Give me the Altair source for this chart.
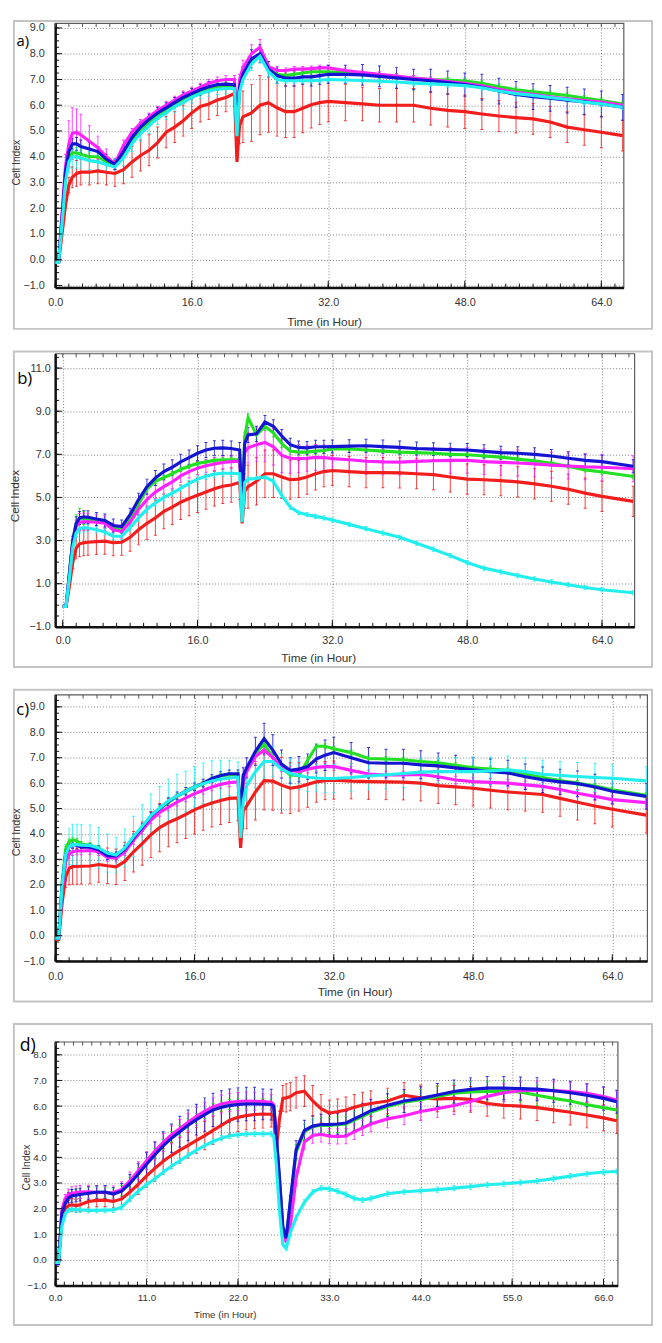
import altair as alt
import numpy as np
import pandas as pd

FONT = "Liberation Sans"
SERIES = ["red", "green", "blue", "magenta", "cyan"]
COLORS = {"red": "#f21d1d", "green": "#22e022", "blue": "#1414d2",
          "magenta": "#ff22ff", "cyan": "#22eeee"}
DRAW_ORDER = ["red", "green", "magenta", "blue", "cyan"]

# ---------------- panel a ----------------
A_T = [0, 0.4, 0.8, 1.2, 1.6, 2, 2.5, 3, 4, 5, 6, 7, 8, 9, 10, 11, 12, 13, 14, 15, 16, 17, 18, 19, 20, 21,
       21.3, 21.6, 22, 23, 24, 25, 26, 27, 28, 29, 30, 31, 32, 34, 36, 38, 40, 42, 44, 46, 48, 50, 52, 54,
       56, 58, 60, 62, 64, 66.5]
A_RED = [-0.1, -0.1, 1.0, 2.1, 2.9, 3.2, 3.35,
         3.4, 3.4, 3.45, 3.4, 3.35, 3.5, 3.8, 4.05, 4.25, 4.55, 4.95, 5.15, 5.4, 5.7, 5.95, 6.05, 6.2, 6.3, 6.45,
         3.8, 5.2,
         5.55, 5.7, 6.0, 6.1, 5.9, 5.75, 5.75, 5.88, 6.02, 6.1, 6.15,
         6.1, 6.05, 6.0, 6.0, 6.0, 5.88, 5.8, 5.75, 5.66, 5.58, 5.52, 5.47, 5.35, 5.15, 5.05, 4.95,
         4.82]
A_GREEN = [-0.1, -0.1, 1.5, 3.2, 3.95, 4.15, 4.15,
           4.1, 4.0, 4.0, 3.8, 3.65, 4.1, 4.65, 5.05, 5.35, 5.6, 5.85, 6.05, 6.25, 6.4, 6.55, 6.65, 6.72, 6.75, 6.75,
           5.0, 6.6,
           7.1, 7.75, 7.9, 7.4, 7.2, 7.15, 7.2, 7.25, 7.3, 7.3, 7.3,
           7.27, 7.22, 7.15, 7.1, 7.05, 7.0, 6.98, 6.94, 6.85, 6.72, 6.6, 6.52, 6.45, 6.38, 6.28, 6.18,
           6.05]
A_BLUE = [-0.1, -0.1, 1.6, 3.4, 4.2, 4.5, 4.5,
          4.4, 4.3, 4.2, 3.9, 3.7, 4.2, 4.75, 5.15, 5.45, 5.7, 5.9, 6.1, 6.3, 6.45, 6.6, 6.72, 6.8, 6.82, 6.8,
          5.0, 6.7,
          7.2, 7.8, 8.0, 7.4, 7.15, 7.05, 7.05, 7.1, 7.1, 7.15, 7.2,
          7.2, 7.18, 7.12, 7.06, 7.0, 6.95, 6.88, 6.8, 6.7, 6.55, 6.42, 6.33, 6.27, 6.2, 6.13, 6.05,
          5.92]
A_MAGENTA = [-0.1, -0.1, 1.8, 3.6, 4.5, 4.9, 4.95,
             4.85, 4.6, 4.35, 4.0, 3.72, 4.45, 4.95, 5.3, 5.55, 5.8, 6.0, 6.2, 6.4, 6.55, 6.7, 6.85, 6.95, 7.0, 7.0,
             5.0, 7.0,
             7.45, 8.0, 8.25, 7.5, 7.35, 7.35, 7.4, 7.4, 7.42, 7.45, 7.45,
             7.35, 7.27, 7.2, 7.13, 7.05, 7.0, 6.92, 6.85, 6.75, 6.62, 6.5, 6.42, 6.33, 6.25, 6.18, 6.12,
             6.0]
A_CYAN = [-0.1, -0.1, 1.4, 3.0, 3.8, 4.0, 4.0,
          3.95, 3.85, 3.8, 3.7, 3.6, 3.95, 4.5, 4.9, 5.2, 5.5, 5.7, 5.95, 6.1, 6.3, 6.45, 6.55, 6.62, 6.65, 6.65,
          4.8, 6.5,
          7.0, 7.6, 7.9, 7.3, 7.0, 6.95, 6.95, 6.95, 6.95, 6.97, 7.0,
          6.98, 6.96, 6.93, 6.9, 6.86, 6.83, 6.8, 6.76, 6.68, 6.55, 6.45, 6.38, 6.3, 6.22, 6.12, 6.05,
          5.92]
A_RED_E = [0, 0, 0, 0, 0.3, 0.4, 0.5,
           0.5, 0.5, 0.5, 0.5, 0.5, 0.55, 0.6, 0.6, 0.6, 0.6, 0.6, 0.6, 0.6, 0.6, 0.6, 0.6, 0.6, 0.55, 0.5,
           0, 0.7,
           1.0, 1.1, 1.15, 1.15, 1.1, 1.0, 1.0, 0.95, 0.9, 0.85, 0.8,
           0.7, 0.65, 0.65, 0.65, 0.65, 0.65, 0.65, 0.65, 0.6, 0.6, 0.6, 0.6, 0.6, 0.6, 0.6, 0.6,
           0.6]
A_GREEN_E = [0, 0, 0, 0.1, 0.2, 0.2, 0.2,
             0.15, 0.15, 0.15, 0.15, 0.15, 0.15, 0.15, 0.15, 0.15, 0.15, 0.15, 0.15, 0.15, 0.15, 0.15, 0.15, 0.15, 0.15, 0.15,
             0, 0.1,
             0.1, 0.1, 0.1, 0.1, 0.1, 0.1, 0.1, 0.1, 0.1, 0.1, 0.1,
             0.1, 0.1, 0.1, 0.1, 0.1, 0.1, 0.1, 0.1, 0.1, 0.1, 0.1, 0.1, 0.1, 0.1, 0.1, 0.1,
             0.1]
A_BLUE_E = [0, 0, 0, 0, 0.15, 0.2, 0.25,
            0.25, 0.25, 0.2, 0.2, 0.2, 0.2, 0.2, 0.2, 0.2, 0.2, 0.2, 0.2, 0.2, 0.2, 0.2, 0.2, 0.2, 0.2, 0.2,
            0, 0.2,
            0.3, 0.35, 0.35, 0.3, 0.3, 0.3, 0.3, 0.3, 0.35, 0.35, 0.35,
            0.35, 0.4, 0.4, 0.4, 0.4, 0.45, 0.45, 0.45, 0.5, 0.5, 0.5, 0.5, 0.5, 0.5, 0.5, 0.5,
            0.5]
A_MAGENTA_E = [0, 0, 0, 0.5, 0.9, 1.0, 0.9,
               0.8, 0.6, 0.45, 0.3, 0.2, 0.2, 0.15, 0.15, 0.15, 0.15, 0.15, 0.15, 0.15, 0.15, 0.15, 0.15, 0.15, 0.15, 0.15,
               0, 0.2,
               0.3, 0.35, 0.3, 0.2, 0.15, 0.1, 0.1, 0.1, 0.1, 0.1, 0.1,
               0.1, 0.1, 0.1, 0.1, 0.1, 0.1, 0.1, 0.1, 0.1, 0.1, 0.1, 0.1, 0.1, 0.1, 0.1, 0.1,
               0.1]
A_CYAN_E = [0, 0, 0, 0.3, 0.4, 0.45, 0.45,
            0.4, 0.35, 0.3, 0.3, 0.3, 0.3, 0.3, 0.3, 0.3, 0.25, 0.25, 0.25, 0.25, 0.2, 0.2, 0.2, 0.2, 0.2, 0.2,
            0, 0.2,
            0.2, 0.25, 0.25, 0.2, 0.15, 0.1, 0.1, 0.1, 0.1, 0.1, 0.1,
            0.1, 0.1, 0.1, 0.1, 0.1, 0.1, 0.1, 0.1, 0.1, 0.1, 0.1, 0.1, 0.1, 0.1, 0.1, 0.1,
            0.1]

# ---------------- panel b ----------------
B_T = [0, 0.4, 0.8, 1.2, 1.6, 2, 2.5, 3, 4, 5, 6, 7, 8, 9, 10, 11, 12, 13, 14, 15, 16, 17, 18, 19, 20, 21,
       21.3, 21.6, 22, 23, 24, 25, 26, 27, 28, 29, 30, 31, 32, 34, 36, 38, 40, 42, 44, 46, 48, 50, 52, 54,
       56, 58, 60, 62, 64, 67.7]
B_RED = [-0.05, -0.05, 0.9, 2.0, 2.65, 2.85, 2.9,
         2.92, 2.95, 2.97, 2.9, 2.92, 3.15, 3.5, 3.8, 4.05, 4.35, 4.55, 4.78, 4.95, 5.1, 5.25, 5.4, 5.52, 5.58, 5.7,
         3.8, 5.3,
         5.5, 5.75, 6.1, 6.1, 5.95, 5.82, 5.85, 5.95, 6.1, 6.2, 6.25,
         6.2, 6.15, 6.15, 6.14, 6.1, 6.06, 5.95, 5.85, 5.82, 5.78, 5.72, 5.63, 5.52, 5.38, 5.2, 5.05,
         4.82]
B_GREEN = [-0.05, -0.05, 1.5, 3.0, 3.8, 4.0, 4.05,
           4.0, 3.95, 3.9, 3.6, 3.5, 4.0, 4.7, 5.4, 5.75, 5.92, 6.1, 6.3, 6.45, 6.58, 6.65, 6.72, 6.75, 6.75, 6.75,
           4.5, 7.8,
           8.7, 7.9, 8.3, 8.0, 7.5, 7.15, 7.1, 7.1, 7.15, 7.18, 7.25,
           7.25, 7.2, 7.15, 7.1, 7.08, 7.05, 7.0, 6.98, 6.92, 6.87, 6.78, 6.7, 6.58, 6.45, 6.28, 6.18,
           5.97]
B_BLUE = [-0.05, -0.05, 1.5, 3.0, 3.8, 4.05, 4.1,
          4.08, 4.0, 3.93, 3.7, 3.65, 4.2, 4.9, 5.5, 5.9, 6.2, 6.4, 6.65, 6.85, 7.05, 7.2, 7.28, 7.3, 7.27, 7.2,
          4.6, 7.5,
          7.9, 7.95, 8.5, 8.3, 7.85, 7.45, 7.32, 7.3, 7.35, 7.35, 7.36,
          7.38, 7.4, 7.36, 7.32, 7.27, 7.24, 7.22, 7.2, 7.14, 7.08, 7.05, 7.0, 6.92, 6.82, 6.72, 6.66,
          6.45]
B_MAGENTA = [-0.05, -0.05, 1.4, 2.9, 3.65, 3.85, 3.88,
             3.87, 3.85, 3.8, 3.5, 3.42, 3.85, 4.45, 4.9, 5.25, 5.5, 5.72, 6.0, 6.2, 6.36, 6.47, 6.55, 6.62, 6.66, 6.68,
             4.6, 7.1,
             7.3, 7.45, 7.55, 7.35, 6.95, 6.82, 6.8, 6.82, 6.86, 6.85, 6.8,
             6.75, 6.68, 6.65, 6.64, 6.67, 6.7, 6.72, 6.72, 6.66, 6.63, 6.6, 6.56, 6.5, 6.46, 6.42, 6.4,
             6.33]
B_CYAN = [-0.05, -0.05, 1.3, 2.7, 3.35, 3.55, 3.6,
          3.58, 3.5, 3.4, 3.2, 3.2, 3.6, 4.05, 4.45, 4.75, 5.0, 5.2, 5.42, 5.65, 5.85, 5.98, 6.08, 6.12, 6.12, 6.1,
          3.85, 5.7,
          5.85, 5.88, 5.95, 5.75, 5.1, 4.55, 4.3, 4.2, 4.12, 4.05, 3.95,
          3.75, 3.55, 3.35, 3.15, 2.88, 2.6, 2.3, 1.98, 1.72, 1.55, 1.38, 1.22, 1.08, 0.95, 0.82, 0.72,
          0.58]
B_RED_E = [0, 0, 0, 0.3, 0.5, 0.6, 0.6,
           0.6, 0.6, 0.6, 0.6, 0.6, 0.65, 0.7, 0.75, 0.8, 0.8, 0.8, 0.8, 0.8, 0.8, 0.8, 0.8, 0.8, 0.8, 0.8,
           0, 0.8,
           1.0, 1.1, 1.1, 1.1, 1.0, 0.9, 0.85, 0.8, 0.75, 0.7, 0.7,
           0.7, 0.7, 0.7, 0.7, 0.7, 0.7, 0.7, 0.7, 0.7, 0.7, 0.7, 0.7, 0.7, 0.7, 0.7, 0.7,
           0.7]
B_GREEN_E = [0, 0, 0, 0.2, 0.4, 0.5, 0.3,
             0.1, 0.1, 0.1, 0.1, 0.1, 0.1, 0.1, 0.1, 0.1, 0.1, 0.1, 0.1, 0.1, 0.1, 0.1, 0.1, 0.1, 0.1, 0.1,
             0, 0.2,
             0.2, 0.2, 0.2, 0.2, 0.2, 0.15, 0.15, 0.15, 0.15, 0.15, 0.15,
             0.1, 0.1, 0.1, 0.1, 0.1, 0.1, 0.1, 0.1, 0.1, 0.1, 0.1, 0.1, 0.1, 0.1, 0.1, 0.1,
             0.1]
B_BLUE_E = [0, 0, 0, 0.2, 0.3, 0.3, 0.3,
            0.3, 0.3, 0.3, 0.3, 0.3, 0.3, 0.3, 0.35, 0.35, 0.35, 0.35, 0.35, 0.35, 0.35, 0.35, 0.35, 0.35, 0.35, 0.35,
            0, 0.3,
            0.35, 0.35, 0.3, 0.3, 0.3, 0.3, 0.3, 0.3, 0.3, 0.3, 0.3,
            0.3, 0.3, 0.3, 0.3, 0.3, 0.3, 0.3, 0.3, 0.3, 0.3, 0.3, 0.3, 0.3, 0.3, 0.3, 0.3,
            0.3]
B_MAGENTA_E = [0, 0, 0, 0.2, 0.3, 0.4, 0.4,
               0.4, 0.35, 0.35, 0.3, 0.3, 0.3, 0.3, 0.3, 0.3, 0.3, 0.3, 0.3, 0.3, 0.3, 0.3, 0.3, 0.3, 0.3, 0.3,
               0, 0.6,
               0.7, 0.8, 0.9, 0.85, 0.8, 0.7, 0.65, 0.6, 0.6, 0.6, 0.6,
               0.6, 0.6, 0.6, 0.6, 0.6, 0.6, 0.6, 0.6, 0.6, 0.6, 0.6, 0.6, 0.6, 0.6, 0.6, 0.6,
               0.6]
B_CYAN_E = [0, 0, 0, 0.15, 0.2, 0.2, 0.2,
            0.15, 0.15, 0.15, 0.15, 0.15, 0.15, 0.15, 0.15, 0.15, 0.15, 0.15, 0.15, 0.15, 0.15, 0.15, 0.15, 0.15, 0.15, 0.15,
            0, 0.1,
            0.1, 0.1, 0.1, 0.1, 0.1, 0.1, 0.1, 0.1, 0.1, 0.1, 0.1,
            0.1, 0.1, 0.1, 0.1, 0.1, 0.1, 0.1, 0.1, 0.1, 0.1, 0.1, 0.1, 0.1, 0.1, 0.1, 0.1,
            0.1]

# ---------------- panel c ----------------
C_T = [0, 0.4, 0.8, 1.2, 1.6, 2, 2.5, 3, 4, 5, 6, 7, 8, 9, 10, 11, 12, 13, 14, 15, 16, 17, 18, 19, 20, 21,
       21.3, 21.6, 22, 23, 24, 25, 26, 27, 28, 29, 30, 31, 32, 34, 36, 38, 40, 42, 44, 46, 48, 50, 52, 54,
       56, 58, 60, 62, 64, 67.9]
C_RED = [-0.15, -0.15, 1.3, 2.3, 2.65, 2.72, 2.72,
         2.73, 2.74, 2.8, 2.75, 2.71, 2.92, 3.3, 3.62, 3.97, 4.25, 4.45, 4.6, 4.77, 4.95, 5.1, 5.22, 5.32, 5.4, 5.42,
         3.45, 4.9,
         5.1, 5.65, 6.1, 6.08, 5.92, 5.8, 5.85, 5.95, 6.05, 6.1, 6.12,
         6.08, 6.06, 6.05, 6.04, 6.0, 5.9, 5.85, 5.8, 5.72, 5.65, 5.6, 5.55, 5.4, 5.25, 5.1, 4.97,
         4.74]
C_GREEN = [-0.1, -0.1, 2.1, 3.4, 3.7, 3.77, 3.72,
           3.6, 3.55, 3.45, 3.2, 3.15, 3.4, 3.85, 4.25, 4.68, 4.98, 5.25, 5.48, 5.66, 5.83, 5.98, 6.15, 6.28, 6.33, 6.33,
           4.6, 6.25,
           6.55, 7.15, 7.55, 7.0, 6.6, 6.32, 6.3, 6.9, 7.45, 7.45, 7.35,
           7.2, 6.97, 6.95, 6.92, 6.85, 6.8, 6.7, 6.6, 6.55, 6.5, 6.35, 6.22, 6.1, 6.0, 5.88, 5.74,
           5.52]
C_BLUE = [-0.1, -0.1, 2.0, 3.2, 3.5, 3.6, 3.55,
          3.48, 3.48, 3.38, 3.15, 3.14, 3.4, 3.85, 4.25, 4.7, 5.0, 5.27, 5.5, 5.68, 5.85, 6.0, 6.18, 6.3, 6.37, 6.37,
          4.65, 6.3,
          6.6, 7.25, 7.75, 7.3, 6.75, 6.5, 6.55, 6.65, 6.95, 7.1, 7.2,
          7.0, 6.8, 6.78, 6.78, 6.72, 6.68, 6.6, 6.52, 6.45, 6.4, 6.25, 6.13, 6.05, 5.98, 5.85, 5.68,
          5.48]
C_MAGENTA = [-0.1, -0.1, 1.8, 2.9, 3.2, 3.3, 3.33,
             3.33, 3.35, 3.3, 3.08, 3.05, 3.3, 3.75, 4.15, 4.55, 4.85, 5.05, 5.25, 5.42, 5.58, 5.72, 5.85, 5.95, 6.02, 6.05,
             4.6, 6.0,
             6.45, 7.05, 7.3, 7.0, 6.6, 6.5, 6.45, 6.55, 6.62, 6.65, 6.65,
             6.5, 6.36, 6.32, 6.32, 6.34, 6.25, 6.12, 6.06, 6.03, 6.0, 5.93, 5.87, 5.75, 5.6, 5.48, 5.35,
             5.23]
C_CYAN = [-0.1, -0.1, 2.0, 3.2, 3.5, 3.58, 3.58,
          3.56, 3.55, 3.45, 3.25, 3.17, 3.45, 3.9, 4.3, 4.72, 5.02, 5.3, 5.5, 5.67, 5.85, 5.98, 6.08, 6.15, 6.2, 6.23,
          3.85, 5.3,
          5.9, 6.45, 6.85, 6.85, 6.55, 6.38, 6.3, 6.23, 6.2, 6.18, 6.18,
          6.22, 6.28, 6.33, 6.38, 6.43, 6.45, 6.45, 6.45, 6.48, 6.52, 6.45, 6.35, 6.3, 6.26, 6.22, 6.19,
          6.09]
C_RED_E = [0, 0, 0, 0.4, 0.65, 0.7, 0.7,
           0.7, 0.7, 0.7, 0.7, 0.7, 0.75, 0.8, 0.85, 0.9, 0.95, 0.95, 0.95, 0.95, 0.95, 0.95, 0.95, 0.95, 0.95, 0.9,
           0, 0.7,
           0.9, 1.1, 1.15, 1.15, 1.1, 1.0, 0.95, 0.9, 0.8, 0.75, 0.75,
           0.7, 0.7, 0.7, 0.7, 0.7, 0.7, 0.7, 0.7, 0.7, 0.7, 0.7, 0.7, 0.7, 0.7, 0.7, 0.7,
           0.7]
C_GREEN_E = [0, 0, 0, 0.1, 0.1, 0.1, 0.1,
             0.1, 0.1, 0.1, 0.1, 0.1, 0.1, 0.1, 0.1, 0.1, 0.1, 0.1, 0.1, 0.1, 0.1, 0.1, 0.1, 0.1, 0.1, 0.1,
             0, 0.1,
             0.1, 0.1, 0.1, 0.1, 0.1, 0.1, 0.1, 0.1, 0.1, 0.1, 0.1,
             0.1, 0.1, 0.1, 0.1, 0.1, 0.1, 0.1, 0.1, 0.1, 0.1, 0.1, 0.1, 0.1, 0.1, 0.1, 0.1,
             0.1]
C_BLUE_E = [0, 0, 0, 0.1, 0.15, 0.15, 0.15,
            0.15, 0.15, 0.15, 0.15, 0.15, 0.15, 0.15, 0.15, 0.15, 0.15, 0.15, 0.15, 0.15, 0.15, 0.15, 0.15, 0.15, 0.15, 0.15,
            0, 0.3,
            0.4, 0.55, 0.6, 0.6, 0.55, 0.5, 0.5, 0.5, 0.55, 0.6, 0.6,
            0.6, 0.6, 0.55, 0.55, 0.55, 0.5, 0.5, 0.5, 0.5, 0.5, 0.5, 0.5, 0.5, 0.5, 0.5, 0.5,
            0.5]
C_MAGENTA_E = [0, 0, 0, 0.1, 0.15, 0.15, 0.15,
               0.15, 0.15, 0.15, 0.15, 0.15, 0.15, 0.15, 0.15, 0.15, 0.15, 0.15, 0.15, 0.15, 0.15, 0.15, 0.15, 0.15, 0.15, 0.15,
               0, 0.15,
               0.2, 0.2, 0.2, 0.2, 0.15, 0.15, 0.15, 0.15, 0.15, 0.15, 0.15,
               0.15, 0.15, 0.15, 0.15, 0.15, 0.15, 0.15, 0.15, 0.15, 0.15, 0.15, 0.15, 0.15, 0.15, 0.15, 0.15,
               0.15]
C_CYAN_E = [0, 0, 0, 0.4, 0.7, 0.8, 0.8,
            0.8, 0.8, 0.8, 0.75, 0.7, 0.75, 0.8, 0.85, 0.85, 0.85, 0.85, 0.85, 0.8, 0.8, 0.8, 0.8, 0.75, 0.7, 0.6,
            0, 0.5,
            0.6, 0.65, 0.65, 0.6, 0.6, 0.6, 0.55, 0.55, 0.55, 0.55, 0.55,
            0.55, 0.55, 0.55, 0.55, 0.55, 0.55, 0.55, 0.55, 0.55, 0.55, 0.55, 0.55, 0.55, 0.55, 0.55, 0.55,
            0.55]

# ---------------- panel d ----------------
D_T = [0, 0.4, 0.8, 1.2, 1.6, 2, 2.5, 3, 4, 5, 6, 7, 8, 9, 10, 11, 12, 13, 14, 15, 16, 17, 18, 19, 20, 21,
       22, 23, 24, 25, 26, 26.3, 26.6, 27, 27.4, 27.8, 28.3, 29, 30, 31, 32, 33, 34, 35, 36, 37, 38,
       40, 42, 44, 46, 48, 50, 52, 54, 56, 58, 60, 62, 64, 66, 67.6]
D_RED = [-0.1, -0.1, 1.55, 2.0, 2.12, 2.15, 2.12,
         2.15, 2.28, 2.32, 2.33, 2.28, 2.38, 2.65, 2.95, 3.28, 3.57, 3.85, 4.08, 4.28, 4.47, 4.66, 4.85, 5.05,
         5.25, 5.45, 5.56, 5.63, 5.67, 5.69, 5.68,
         5.6, 4.3, 5.5, 6.3, 6.32, 6.37,
         6.52, 6.58, 6.2, 5.9, 5.73, 5.78, 5.85, 5.95, 6.04, 6.1,
         6.2, 6.42, 6.32, 6.28, 6.3, 6.26, 6.1, 6.03, 6.0, 5.94, 5.85, 5.76, 5.65, 5.54,
         5.43]
D_GREEN = [-0.1, -0.1, 1.85, 2.3, 2.5, 2.55, 2.57,
           2.6, 2.62, 2.64, 2.63, 2.6, 2.7, 3.02, 3.4, 3.78, 4.15, 4.5, 4.8, 5.05, 5.3, 5.52, 5.72, 5.9,
           6.0, 6.07, 6.1, 6.12, 6.12, 6.1, 6.08,
           6.0, 4.8, 3.1, 1.25, 0.8, 2.2,
           4.2, 5.0, 5.2, 5.25, 5.25, 5.27, 5.3, 5.45, 5.6, 5.76,
           5.98, 6.15, 6.25, 6.38, 6.5, 6.55, 6.57, 6.58, 6.55, 6.42, 6.3, 6.2, 6.05, 5.94,
           5.85]
D_BLUE = [-0.15, -0.15, 1.8, 2.2, 2.42, 2.5, 2.52,
          2.55, 2.6, 2.64, 2.65, 2.57, 2.68, 2.98, 3.35, 3.73, 4.1, 4.45, 4.75, 5.0, 5.25, 5.47, 5.67, 5.85,
          5.95, 6.02, 6.06, 6.08, 6.08, 6.07, 6.06,
          6.0, 4.9, 3.2, 1.3, 0.85, 2.3,
          4.3, 5.05, 5.22, 5.28, 5.28, 5.3, 5.34, 5.5, 5.66, 5.82,
          6.03, 6.2, 6.3, 6.43, 6.57, 6.65, 6.7, 6.7, 6.68, 6.66, 6.6, 6.52, 6.42, 6.3,
          6.17]
D_MAGENTA = [-0.1, -0.1, 1.95, 2.4, 2.57, 2.6, 2.63,
             2.65, 2.66, 2.64, 2.62, 2.63, 2.75, 3.08, 3.48, 3.87, 4.25, 4.58, 4.88, 5.13, 5.37, 5.6, 5.8, 5.97,
             6.08, 6.15, 6.18, 6.2, 6.19, 6.18, 6.15,
             6.05, 4.9, 3.0, 1.2, 0.68, 1.32,
             3.2, 4.6, 4.85, 4.9, 4.83, 4.82, 4.83, 5.0, 5.15, 5.3,
             5.5, 5.62, 5.79, 5.9, 6.02, 6.18, 6.38, 6.52, 6.6, 6.62, 6.6, 6.57, 6.5, 6.37,
             6.24]
D_CYAN = [-0.1, -0.1, 1.3, 1.8, 1.95, 1.98, 1.95,
          1.95, 1.93, 1.93, 1.94, 1.95, 2.05, 2.38, 2.68, 2.93, 3.17, 3.42, 3.65, 3.87, 4.08, 4.28, 4.46, 4.62,
          4.75, 4.84, 4.88, 4.91, 4.92, 4.92, 4.92,
          4.85, 3.8, 1.9, 0.6, 0.45, 1.05,
          1.65, 2.25, 2.65, 2.8, 2.77, 2.68, 2.55, 2.4, 2.34, 2.4,
          2.58, 2.66, 2.7, 2.74, 2.8, 2.86, 2.93, 2.97, 3.02, 3.08, 3.17, 3.27, 3.36, 3.43,
          3.45]
D_RED_E = [0, 0, 0, 0.15, 0.2, 0.25, 0.25,
           0.25, 0.25, 0.25, 0.25, 0.25, 0.3, 0.35, 0.4, 0.45, 0.5, 0.5, 0.5, 0.5, 0.5, 0.5, 0.55, 0.55,
           0.55, 0.55, 0.55, 0.55, 0.55, 0.55, 0.5,
           0, 0, 0.3, 0.5, 0.55, 0.55,
           0.6, 0.6, 0.6, 0.55, 0.5, 0.5, 0.5, 0.5, 0.5, 0.5,
           0.5, 0.5, 0.5, 0.5, 0.5, 0.5, 0.5, 0.5, 0.5, 0.5, 0.5, 0.5, 0.5, 0.5,
           0.5]
D_GREEN_E = [0, 0, 0, 0.1, 0.15, 0.2, 0.2,
             0.2, 0.2, 0.2, 0.2, 0.2, 0.2, 0.2, 0.2, 0.2, 0.2, 0.2, 0.2, 0.2, 0.2, 0.2, 0.2, 0.2,
             0.2, 0.2, 0.2, 0.2, 0.2, 0.2, 0.2,
             0, 0, 0, 0, 0, 0.2,
             0.3, 0.3, 0.3, 0.3, 0.3, 0.3, 0.3, 0.35, 0.35, 0.35,
             0.35, 0.4, 0.4, 0.4, 0.4, 0.4, 0.4, 0.4, 0.4, 0.4, 0.4, 0.4, 0.4, 0.4,
             0.4]
D_BLUE_E = [0, 0, 0, 0.15, 0.2, 0.25, 0.25,
            0.25, 0.25, 0.25, 0.25, 0.25, 0.3, 0.35, 0.4, 0.45, 0.5, 0.55, 0.55, 0.6, 0.6, 0.6, 0.65, 0.65,
            0.65, 0.65, 0.65, 0.65, 0.65, 0.6, 0.6,
            0, 0, 0, 0, 0, 0.2,
            0.35, 0.4, 0.4, 0.4, 0.4, 0.4, 0.45, 0.45, 0.45, 0.45,
            0.45, 0.45, 0.45, 0.45, 0.45, 0.45, 0.45, 0.45, 0.45, 0.45, 0.45, 0.45, 0.45, 0.45,
            0.45]
D_MAGENTA_E = [0, 0, 0, 0.15, 0.2, 0.25, 0.25,
               0.25, 0.25, 0.25, 0.25, 0.25, 0.3, 0.35, 0.35, 0.35, 0.35, 0.35, 0.35, 0.35, 0.35, 0.35, 0.35, 0.35,
               0.35, 0.35, 0.35, 0.35, 0.35, 0.3, 0.3,
               0, 0, 0, 0, 0, 0.2,
               0.3, 0.3, 0.3, 0.3, 0.3, 0.3, 0.3, 0.3, 0.3, 0.3,
               0.35, 0.35, 0.35, 0.35, 0.35, 0.35, 0.35, 0.35, 0.35, 0.35, 0.35, 0.35, 0.35, 0.35,
               0.35]
D_CYAN_E = [0, 0, 0, 0.1, 0.1, 0.1, 0.1,
            0.1, 0.1, 0.1, 0.1, 0.1, 0.1, 0.1, 0.1, 0.1, 0.1, 0.1, 0.1, 0.1, 0.1, 0.1, 0.1, 0.1,
            0.1, 0.1, 0.1, 0.1, 0.1, 0.1, 0.1,
            0, 0, 0, 0, 0, 0.1,
            0.1, 0.1, 0.1, 0.1, 0.1, 0.1, 0.1, 0.1, 0.1, 0.1,
            0.1, 0.1, 0.1, 0.1, 0.1, 0.1, 0.1, 0.1, 0.1, 0.1, 0.1, 0.1, 0.1, 0.1,
            0.1]

# tick labels
X_LABELS_ABC = [0, 16, 32, 48, 64]
X_LABELS_D = [0, 11, 22, 33, 44, 55, 66]
Y_LABELS_A = [-1, 0, 1, 2, 3, 4, 5, 6, 7, 8, 9]
Y_LABELS_B = [-1, 1, 3, 5, 7, 9, 11]
Y_LABELS_C = [-1, 0, 1, 2, 3, 4, 5, 6, 7, 8, 9]
Y_LABELS_D = [-1, 0, 1, 2, 3, 4, 5, 6, 7, 8]


def make_panel(T, vals, errs, P):
    for s in SERIES:
        assert len(vals[s]) == len(T), (P["plab"], s, len(vals[s]), len(T))
        assert len(errs[s]) == len(T), (P["plab"], s, "err", len(errs[s]), len(T))
    W, H = P["W"], P["H"]
    xs = alt.Scale(domain=P["xdom"], nice=False, zero=False)
    ys = alt.Scale(domain=P["ydom"], nice=False, zero=False)
    common = dict(title=None, format=".1f", grid=True, gridDash=[1, 2], gridColor="#808080",
                  gridWidth=1, ticks=False, tickSize=0, domainColor="#111111", domainWidth=2.5,
                  labelFont=FONT, labelFontSize=P["lfs"], labelColor="#333333",
                  labelFlush=False, labelOverlap=False)
    xa = alt.Axis(values=P["xlab"], labelPadding=P["xpad"], **common)
    ya = alt.Axis(values=P["ylab"], labelPadding=P["ypad"], **common)
    X = alt.X("t:Q", scale=xs, axis=xa)
    one = pd.DataFrame({"k": [0]})
    layers = []
    fx1, fx2, fy1, fy2 = P["frame"]
    layers.append(alt.Chart(one).mark_rect(fill="white", fillOpacity=0, stroke="#c4c4c4", strokeWidth=2)
                  .encode(x=alt.value(fx1), x2=alt.value(fx2), y=alt.value(fy1), y2=alt.value(fy2)))
    rows = []
    for s in DRAW_ORDER:
        for t, v, e in zip(T, vals[s], errs[s]):
            if e > 0:
                rows.append({"t": t, "lo": v - e, "hi": v + e, "s": s})
    eb = pd.DataFrame(rows)
    cscale = alt.Scale(domain=SERIES, range=[COLORS[s] for s in SERIES])
    layers.append(alt.Chart(eb).mark_rule(strokeWidth=1, clip=True, opacity=0.85).encode(
        x=X, y=alt.Y("lo:Q", scale=ys, axis=ya), y2="hi:Q",
        color=alt.Color("s:N", scale=cscale, legend=None)))
    for end in ("hi", "lo"):
        layers.append(alt.Chart(eb).mark_tick(orient="horizontal", size=3, thickness=1, clip=True,
                                              opacity=0.85).encode(
            x=X, y=alt.Y(end + ":Q", scale=ys, axis=ya),
            color=alt.Color("s:N", scale=cscale, legend=None)))
    for s in DRAW_ORDER:
        df = pd.DataFrame({"t": T, "v": vals[s]})
        layers.append(alt.Chart(df).mark_line(color=COLORS[s], strokeWidth=3.2, clip=True).encode(
            x=X, y=alt.Y("v:Q", scale=ys, axis=ya)))
    xmin = pd.DataFrame({"t": P["xminor"]})
    xmaj = pd.DataFrame({"t": P["xlab"]})
    ymin = pd.DataFrame({"v": P["yminor"]})
    ymaj = pd.DataFrame({"v": P["ylab"]})
    Y = alt.Y("v:Q", scale=ys, axis=ya)
    layers.append(alt.Chart(xmin).mark_rule(color="#111111", strokeWidth=1).encode(
        x=X, y=alt.value(H), y2=alt.value(H - 4)))
    layers.append(alt.Chart(xmaj).mark_rule(color="#111111", strokeWidth=1).encode(
        x=X, y=alt.value(H), y2=alt.value(H - 7)))
    layers.append(alt.Chart(xmin).mark_rule(color="#555555", strokeWidth=1).encode(
        x=X, y=alt.value(0), y2=alt.value(4)))
    layers.append(alt.Chart(ymin).mark_rule(color="#111111", strokeWidth=1).encode(
        y=Y, x=alt.value(0), x2=alt.value(4)))
    layers.append(alt.Chart(ymaj).mark_rule(color="#111111", strokeWidth=1).encode(
        y=Y, x=alt.value(0), x2=alt.value(7)))
    px, py = P["ppos"]
    layers.append(alt.Chart(one).mark_text(font="Open Sans", fontSize=P["pfs"], color="black",
                                            align="center", baseline="middle")
                  .encode(x=alt.value(px), y=alt.value(py), text=alt.value(P["plab"])))
    cx, cy = P["ypos"]
    layers.append(alt.Chart(one).mark_text(font=FONT, fontSize=P["yfs"], color="#333333", angle=270,
                                            align="center", baseline="middle")
                  .encode(x=alt.value(cx), y=alt.value(cy), text=alt.value("Cell Index")))
    tx, ty = P["xpos"]
    layers.append(alt.Chart(one).mark_text(font=FONT, fontSize=P["tfs"], color="#333333",
                                            align="center", baseline="middle")
                  .encode(x=alt.value(tx), y=alt.value(ty), text=alt.value("Time (in Hour)")))
    return alt.layer(*layers).properties(width=W, height=H)


PA = dict(W=578, H=269, xdom=[0, 66.6], ydom=[-1.08, 9.19], xlab=X_LABELS_ABC, ylab=Y_LABELS_A,
          xminor=list(np.round(np.arange(0, 66.6, 1.6), 2)), yminor=list(np.round(np.arange(-1, 9.01, 0.25), 2)),
          lfs=11, xpad=9.5, ypad=11, frame=(-42, 607, -2, 311), plab="a)", ppos=(-33, 18), pfs=15,
          ypos=(-39, 142), yfs=10.5, xpos=(274, 304), tfs=12)
PB = dict(W=589, H=278, xdom=[-0.89, 67.84], ydom=[-1.0, 11.68], xlab=X_LABELS_ABC, ylab=Y_LABELS_B,
          xminor=list(np.round(np.arange(0, 67.8, 1.6), 2)), yminor=list(np.round(np.arange(-1, 11.51, 0.5), 2)),
          lfs=11, xpad=7.5, ypad=5, frame=(-42, 607, -2, 319), plab="b)", ppos=(-31, 26), pfs=17,
          ypos=(-41, 145), yfs=12, xpos=(268, 310), tfs=12)
PC = dict(W=602, H=271, xdom=[0, 68.0], ydom=[-1.0, 9.48], xlab=X_LABELS_ABC, ylab=Y_LABELS_C,
          xminor=list(np.round(np.arange(0, 67.9, 1.6), 2)), yminor=list(np.round(np.arange(-1, 9.3, 0.25), 2)),
          lfs=11, xpad=10, ypad=11, frame=(-42, 607, -5, 312), plab="c)", ppos=(-33, 16), pfs=17,
          ypos=(-39, 140), yfs=11, xpos=(305, 303), tfs=12)
PD = dict(W=572, H=248, xdom=[0, 67.7], ydom=[-1.0, 8.51], xlab=X_LABELS_D, ylab=Y_LABELS_D,
          xminor=list(np.round(np.arange(0, 67.6, 1.1), 2)), yminor=list(np.round(np.arange(-1, 8.51, 0.25), 2)),
          lfs=10, xpad=7, ypad=9, frame=(-42, 607, -18, 288), plab="d)", ppos=(-28, 4), pfs=18,
          ypos=(-29, 128), yfs=10.5, xpos=(173, 278), tfs=10)

pa = make_panel(A_T,
                {"red": A_RED, "green": A_GREEN, "blue": A_BLUE, "magenta": A_MAGENTA, "cyan": A_CYAN},
                {"red": A_RED_E, "green": A_GREEN_E, "blue": A_BLUE_E, "magenta": A_MAGENTA_E, "cyan": A_CYAN_E},
                PA)
pb = make_panel(B_T,
                {"red": B_RED, "green": B_GREEN, "blue": B_BLUE, "magenta": B_MAGENTA, "cyan": B_CYAN},
                {"red": B_RED_E, "green": B_GREEN_E, "blue": B_BLUE_E, "magenta": B_MAGENTA_E, "cyan": B_CYAN_E},
                PB)
pc = make_panel(C_T,
                {"red": C_RED, "green": C_GREEN, "blue": C_BLUE, "magenta": C_MAGENTA, "cyan": C_CYAN},
                {"red": C_RED_E, "green": C_GREEN_E, "blue": C_BLUE_E, "magenta": C_MAGENTA_E, "cyan": C_CYAN_E},
                PC)
pd_ = make_panel(D_T,
                 {"red": D_RED, "green": D_GREEN, "blue": D_BLUE, "magenta": D_MAGENTA, "cyan": D_CYAN},
                 {"red": D_RED_E, "green": D_GREEN_E, "blue": D_BLUE_E, "magenta": D_MAGENTA_E, "cyan": D_CYAN_E},
                 PD)

chart = (alt.vconcat(pa, pb, pc, pd_, spacing=19)
         .configure_view(stroke="#5a5a5a", strokeWidth=1.2)
         .properties(padding=0, background="white"))

chart.save("out.html", embed_options={"renderer": "svg", "actions": False})
